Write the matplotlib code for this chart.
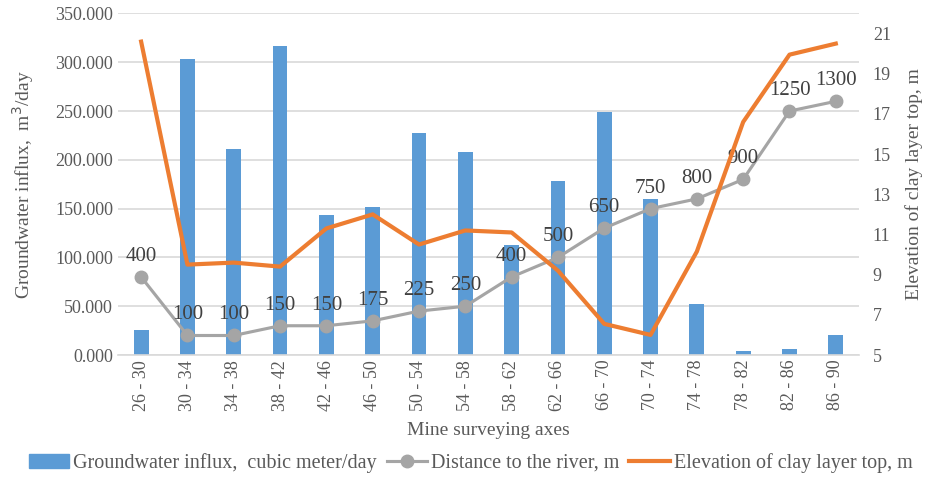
import numpy as np
import matplotlib
matplotlib.use("Agg")
import matplotlib.pyplot as plt
from matplotlib.lines import Line2D
from matplotlib.patches import Patch

plt.rcParams['font.family'] = ['Liberation Serif', 'DejaVu Serif']

axes_labels = ['26 - 30', '30 - 34', '34 - 38', '38 - 42', '42 - 46', '46 - 50',
               '50 - 54', '54 - 58', '58 - 62', '62 - 66', '66 - 70', '70 - 74',
               '74 - 78', '78 - 82', '82 - 86', '86 - 90']
influx = [26, 303, 211, 317, 143, 152, 228, 208, 113, 178, 249, 160, 52, 4, 6, 20.5]
distance = [400, 100, 100, 150, 150, 175, 225, 250, 400, 500, 650, 750, 800, 900, 1250, 1300]
clay_top = [20.6, 9.5, 9.6, 9.4, 11.3, 12.0, 10.5, 11.2, 11.1, 9.2, 6.55, 6.0, 10.15, 16.6, 19.95, 20.5]

txt = '#595959'
blue = '#5B9BD5'
orange = '#ED7D31'
grey = '#A5A5A5'

fig = plt.figure(figsize=(9.26, 4.78), dpi=100)
ax = fig.add_axes([0.1274, 0.2573, 0.8002, 0.7145])
x = np.arange(len(axes_labels))

ax.bar(x, influx, width=0.32, color=blue, zorder=2)
ax.set_xlim(-0.5, len(x) - 0.5)
ax.set_ylim(0, 350)
ax.set_yticks(np.arange(0, 351, 50))
ax.set_yticklabels([f'{v:.3f}' for v in np.arange(0, 351, 50)])
ax.grid(axis='y', color='#D9D9D9', lw=1.2, zorder=0)
ax.set_axisbelow(True)
for s in ['top', 'right', 'left']:
    ax.spines[s].set_visible(False)
ax.spines['bottom'].set_color('#D9D9D9')
ax.spines['bottom'].set_linewidth(1.2)
ax.tick_params(length=0, labelsize=13, colors=txt)
ax.set_xticks(x)
ax.set_xticklabels(axes_labels, rotation=90)
ax.set_ylabel('Groundwater influx,  m$^3$/day', fontsize=14, color=txt, labelpad=14)
ax.set_xlabel('Mine surveying axes', fontsize=14, color=txt, labelpad=8)

# distance line, hidden scale matching left axis (x5)
ax3 = ax.twinx()
ax3.set_ylim(0, 1750)
ax3.axis('off')
ax3.plot(x, distance, color=grey, lw=2.25, marker='o', ms=9, zorder=3)
for xi, d in zip(x, distance):
    ax3.annotate(str(d), (xi, d), xytext=(0, 8), textcoords='offset points',
                 ha='center', va='bottom', fontsize=15, color='#404040')

ax2 = ax.twinx()
ax2.plot(x, clay_top, color=orange, lw=3, zorder=4)
ax2.set_ylim(5, 22)
ax2.set_yticks(np.arange(5, 22, 2))
for s in ['top', 'right', 'left', 'bottom']:
    ax2.spines[s].set_visible(False)
ax2.tick_params(length=0, labelsize=13, colors=txt, pad=10)
ax2.set_ylabel('Elevation of clay layer top, m', fontsize=14, color=txt, labelpad=10)

handles = [Patch(color=blue),
           Line2D([], [], color=grey, lw=2.25, marker='o', ms=9),
           Line2D([], [], color=orange, lw=3)]
names = ['Groundwater influx,  cubic meter/day', 'Distance to the river, m',
         'Elevation of clay layer top, m']
leg = fig.legend(handles, names, loc='center', bbox_to_anchor=(0.508, 0.032), ncol=3,
                 frameon=False, fontsize=14.5, handlelength=2.0, columnspacing=0.5,
                 handletextpad=0.2)
for t in leg.get_texts():
    t.set_color(txt)

fig.savefig('out.png', dpi=100)
